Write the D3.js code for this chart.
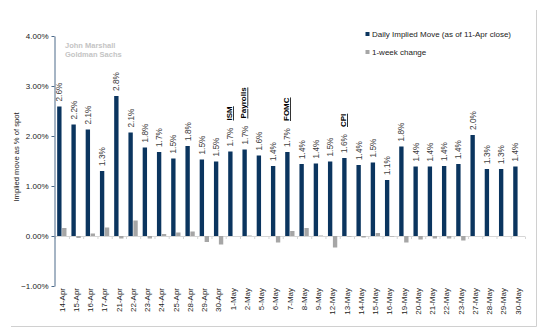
<!DOCTYPE html>
<html>
<head>
<meta charset="utf-8">
<script src="https://cdn.jsdelivr.net/npm/d3@7"></script>
<style>
  body { margin: 0; background: #fff; }
  svg { display: block; font-family: "Liberation Sans", Arial, sans-serif; }
</style>
</head>
<body>
<script>
// dates on the x axis
const dates = ["14-Apr", "15-Apr", "16-Apr", "17-Apr", "21-Apr", "22-Apr", "23-Apr", "24-Apr", "25-Apr", "28-Apr", "29-Apr", "30-Apr",
  "1-May", "2-May", "5-May", "6-May", "7-May", "8-May", "9-May", "12-May", "13-May", "14-May", "15-May", "16-May",
  "19-May", "20-May", "21-May", "22-May", "23-May", "27-May", "28-May", "29-May", "30-May"];

// daily implied move (%)
const impliedMove = [2.59, 2.23, 2.13, 1.30, 2.80, 2.07, 1.77, 1.68, 1.55, 1.80, 1.53, 1.49,
  1.69, 1.73, 1.61, 1.40, 1.68, 1.44, 1.45, 1.49, 1.56, 1.42, 1.47, 1.12,
  1.79, 1.39, 1.39, 1.40, 1.44, 2.02, 1.34, 1.34, 1.39];

// 1-week change (%)
const weekChange = [0.16, -0.04, 0.05, 0.17, -0.05, 0.31, -0.05, 0.04, 0.07, 0.09, -0.12, -0.17,
  0.00, 0.01, 0.00, -0.13, 0.10, 0.16, 0.01, -0.23, -0.01, -0.03, 0.06, -0.01,
  -0.13, -0.07, -0.05, -0.05, -0.09, 0.00, 0.00, 0.00, 0.00];

// labelled values on top of the bars
const moveLabels = ["2.6%", "2.2%", "2.1%", "1.3%", "2.8%", "2.1%", "1.8%", "1.7%", "1.5%", "1.8%", "1.5%", "1.5%",
  "1.7%", "1.7%", "1.6%", "1.4%", "1.7%", "1.4%", "1.4%", "1.5%", "1.6%", "1.4%", "1.5%", "1.1%",
  "1.8%", "1.4%", "1.4%", "1.4%", "1.4%", "2.0%", "1.3%", "1.3%", "1.4%"];

// event markers
const events = [
  { date: "1-May", name: "ISM" },
  { date: "2-May", name: "Payrolls" },
  { date: "7-May", name: "FOMC" },
  { date: "13-May", name: "CPI" }
];

const yTicks = [-1, 0, 1, 2, 3, 4];

const width = 544, height = 335;
const navy = "#0b355f";
const grey = "#a6a6a6";

const svg = d3.select("body").append("svg")
  .attr("width", width)
  .attr("height", height);

const data = dates.map((d, i) => ({ date: d, move: impliedMove[i], chg: weekChange[i], label: moveLabels[i] }));

const x0 = d3.scaleBand().domain(dates).range([54.7, 525]);
const x1 = d3.scaleBand().domain(["move", "chg"]).range([0, x0.bandwidth()])
  .paddingInner(0.12).paddingOuter(0.5);
const y = d3.scaleLinear().domain([-1, 4]).range([286, 36]);

// border (right and bottom only)
svg.append("path")
  .attr("d", "M536.5,10V326.5H11")
  .attr("fill", "none")
  .attr("stroke", "#d0d0d0")
  .attr("stroke-width", 1);

// zero line with small ticks
svg.append("line")
  .attr("x1", x0.range()[0]).attr("x2", x0.range()[1])
  .attr("y1", y(0) + 0.5).attr("y2", y(0) + 0.5)
  .attr("stroke", "#d6d6d6");
svg.append("g").selectAll("line")
  .data(dates.concat(["end"]))
  .join("line")
  .attr("x1", (d, i) => x0.range()[0] + i * x0.step() + 0.5)
  .attr("x2", (d, i) => x0.range()[0] + i * x0.step() + 0.5)
  .attr("y1", y(0) + 0.5).attr("y2", y(0) + 3)
  .attr("stroke", "#d6d6d6");

const groups = svg.append("g").selectAll("g")
  .data(data)
  .join("g")
  .attr("transform", d => `translate(${x0(d.date)},0)`);

groups.append("rect")
  .attr("x", x1("move"))
  .attr("width", x1.bandwidth())
  .attr("y", d => y(d.move))
  .attr("height", d => y(0) - y(d.move))
  .attr("fill", navy);

groups.append("rect")
  .attr("x", x1("chg"))
  .attr("width", x1.bandwidth())
  .attr("y", d => y(Math.max(0, d.chg)))
  .attr("height", d => Math.abs(y(0) - y(d.chg)))
  .attr("fill", grey);

// value labels
groups.append("text")
  .attr("transform", d => `translate(${x1("move") + x1.bandwidth() / 2},${y(d.move) - 5}) rotate(-90)`)
  .attr("dy", "0.35em")
  .attr("font-size", "8.3px")
  .attr("fill", "#404040")
  .text(d => d.label);

// event labels
svg.append("g").selectAll("text")
  .data(events)
  .join("text")
  .attr("transform", d => {
    const r = data.find(e => e.date === d.date);
    return `translate(${x0(d.date) + x1("move") + x1.bandwidth() / 2 - 1},${y(r.move) - 31}) rotate(-90)`;
  })
  .attr("dy", "0.35em")
  .attr("font-size", "8px")
  .attr("font-weight", "bold")
  .attr("text-decoration", "underline")
  .attr("fill", "#000")
  .text(d => d.name);

// y axis
const yAxis = svg.append("g")
  .attr("transform", "translate(54.5,0)")
  .call(d3.axisLeft(y).tickValues(yTicks).tickSize(3).tickSizeOuter(0)
    .tickFormat(d => d3.format(".2f")(d) + "%"));
yAxis.select(".domain").attr("stroke", "#4d6a8a");
yAxis.selectAll(".tick line").attr("stroke", "#4d6a8a");
yAxis.selectAll(".tick text")
  .attr("x", -6)
  .attr("font-size", "8px")
  .attr("font-family", "Liberation Sans, Arial, sans-serif")
  .attr("fill", "#222");

// x labels
svg.append("g").selectAll("text")
  .data(dates)
  .join("text")
  .attr("transform", d => `translate(${x0(d) + x0.bandwidth() / 2},288) rotate(-90)`)
  .attr("dy", "0.35em")
  .attr("text-anchor", "end")
  .attr("font-size", "8px")
  .attr("fill", "#222")
  .text(d => d);

// y title
svg.append("text")
  .attr("transform", "translate(16,157) rotate(-90)")
  .attr("dy", "0.35em")
  .attr("text-anchor", "middle")
  .attr("font-size", "7.6px")
  .attr("fill", "#222")
  .text("Implied move as % of spot");

// source
svg.append("text")
  .attr("x", 65).attr("y", 48)
  .attr("font-size", "7.5px").attr("font-weight", "bold").attr("fill", "#c4c4c4")
  .text("John Marshall");
svg.append("text")
  .attr("x", 65).attr("y", 57)
  .attr("font-size", "7.5px").attr("font-weight", "bold").attr("fill", "#c4c4c4")
  .text("Goldman Sachs");

// legend
const legend = [
  { name: "Daily Implied Move (as of 11-Apr close)", color: navy },
  { name: "1-week change", color: grey }
];
const lg = svg.append("g").selectAll("g")
  .data(legend)
  .join("g")
  .attr("transform", (d, i) => `translate(365.5,${34 + i * 18})`);
lg.append("rect")
  .attr("x", 0).attr("y", -2).attr("width", 4).attr("height", 4)
  .attr("fill", d => d.color);
lg.append("text")
  .attr("x", 6.5)
  .attr("dy", "0.35em")
  .attr("font-size", "8px")
  .attr("fill", "#222")
  .text(d => d.name);
</script>
</body>
</html>
